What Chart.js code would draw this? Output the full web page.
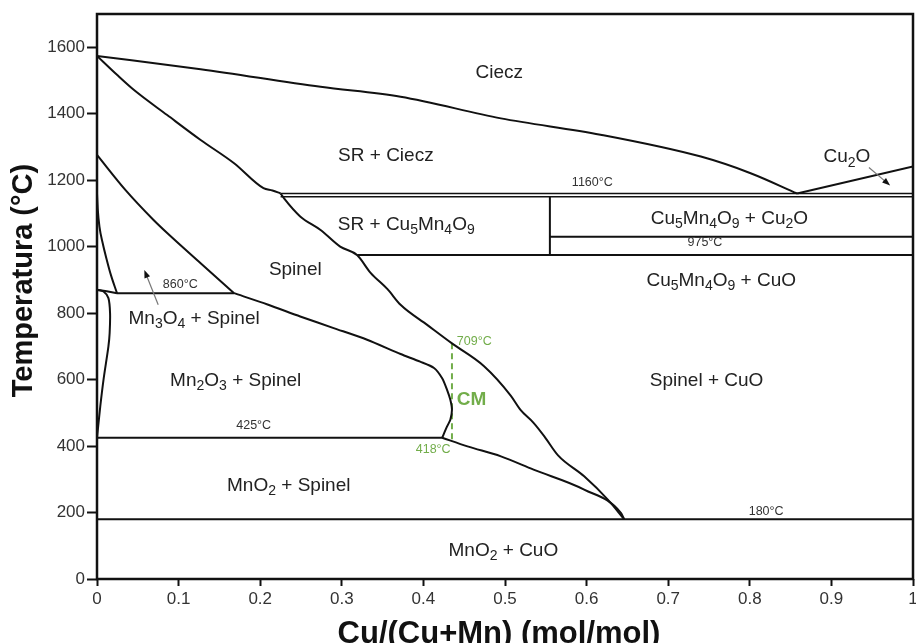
<!DOCTYPE html>
<html>
<head>
<meta charset="utf-8">
<title>Cu-Mn-O</title>
<script src="https://cdn.jsdelivr.net/npm/chart.js@4/dist/chart.umd.min.js"></script>
<style>
  html, body { margin: 0; padding: 0; background: #fff; }
  #wrap { width: 916px; height: 643px; }
</style>
</head>
<body>
<div id="wrap"><canvas id="diagram" width="916" height="643"></canvas></div>
<script>
// phase boundaries, pairs of [Cu/(Cu+Mn), T in °C]
const liquidusSR = [[0, 1574], [0.127, 1534], [0.274, 1481], [0.372, 1451], [0.495, 1386], [0.617, 1337], [0.74, 1271], [0.801, 1221], [0.858, 1160]];
const liquidusCu2O = [[0.858, 1160], [1, 1241]];
const srSolvus = [[0, 1574], [0.0245, 1517], [0.045, 1472], [0.086, 1396], [0.127, 1321], [0.168, 1251], [0.204, 1176], [0.215, 1169], [0.225, 1160]];
const spinelCuO = [[0.225, 1160], [0.229, 1146], [0.249, 1091], [0.274, 1050], [0.298, 1000], [0.319, 974], [0.335, 922], [0.356, 872], [0.372, 825], [0.405, 764], [0.435, 709], [0.474, 641], [0.507, 552], [0.519, 509], [0.535, 470], [0.548, 430], [0.565, 372], [0.597, 309], [0.626, 239], [0.646, 180]];
const spinelLow = [[0.423, 425], [0.454, 399], [0.495, 369], [0.535, 329], [0.597, 269], [0.642, 199], [0.646, 180]];
const spinelMn3O4 = [[0, 1276], [0.035, 1170], [0.069, 1081], [0.086, 1041], [0.127, 950], [0.168, 860]];
const spinelMn2O3 = [[0.168, 860], [0.209, 826], [0.249, 790], [0.290, 755], [0.331, 720], [0.372, 677], [0.396, 654], [0.413, 635], [0.423, 604], [0.429, 569], [0.433, 539], [0.435, 509], [0.433, 479], [0.429, 459], [0.423, 425]];
const mn3o4Edge = [[0, 1160], [0.001, 1110], [0.003, 1060], [0.007, 1010], [0.012, 960], [0.017, 915], [0.0245, 860]];
const mn3o4Foot = [[0, 870], [0.012, 866], [0.0245, 860]];
const mn2o3Lens = [[0, 870], [0.008, 865], [0.014, 845], [0.016, 800], [0.0155, 740], [0.014, 700], [0.008, 600], [0.004, 519], [0, 425]];

// invariant lines
const iso1160 = [[0.225, 1160], [1, 1160]];
const iso1150 = [[0.225, 1150], [1, 1150]];
const iso1030 = [[0.555, 1030], [1, 1030]];
const iso975 = [[0.319, 975], [1, 975]];
const cu5Mn4O9Split = [[0.555, 975], [0.555, 1150]];
const iso860 = [[0.0245, 860], [0.168, 860]];
const iso425 = [[0, 425], [0.423, 425]];
const iso180 = [[0, 180], [1, 180]];
const cmLine = [[0.435, 709], [0.435, 418]];

const xTicks = [0, 0.1, 0.2, 0.3, 0.4, 0.5, 0.6, 0.7, 0.8, 0.9, 1];
const yTicks = [0, 200, 400, 600, 800, 1000, 1200, 1400, 1600];

const FONT = '"Liberation Sans", Arial, Helvetica, sans-serif';
const GREEN = '#72ad4a';

// text in the fields; "_n" is a subscript
const fieldLabels = [
  { t: 'Ciecz', x: 0.493, y: 1524 },
  { t: 'SR + Ciecz', x: 0.354, y: 1274 },
  { t: 'Cu_2O', x: 0.919, y: 1269 },
  { t: 'SR + Cu_5Mn_4O_9', x: 0.379, y: 1066 },
  { t: 'Cu_5Mn_4O_9 + Cu_2O', x: 0.775, y: 1084 },
  { t: 'Spinel', x: 0.243, y: 929 },
  { t: 'Cu_5Mn_4O_9 + CuO', x: 0.765, y: 897 },
  { t: 'Mn_3O_4 + Spinel', x: 0.119, y: 783 },
  { t: 'Mn_2O_3 + Spinel', x: 0.170, y: 596 },
  { t: 'Spinel + CuO', x: 0.747, y: 597 },
  { t: 'MnO_2 + Spinel', x: 0.235, y: 281 },
  { t: 'MnO_2 + CuO', x: 0.498, y: 85 }
];
const tempLabels = [
  { t: '1160°C', x: 0.607, y: 1193 },
  { t: '975°C', x: 0.745, y: 1011 },
  { t: '860°C', x: 0.102, y: 886 },
  { t: '425°C', x: 0.192, y: 461 },
  { t: '180°C', x: 0.820, y: 203 }
];
const arrows = [
  { from: [0.075, 825], to: [0.058, 930] },
  { from: [0.946, 1238], to: [0.972, 1184] }
];

function toPoints(arr) {
  return arr.map(p => ({ x: p[0], y: p[1] }));
}

function line(arr, opts) {
  return Object.assign({
    data: toPoints(arr),
    showLine: true,
    borderColor: '#111',
    borderWidth: 2,
    pointRadius: 0,
    tension: 0,
    fill: false
  }, opts || {});
}

// smooth curve for boundaries that run left to right
function curve(arr, opts) {
  return line(arr, Object.assign({ cubicInterpolationMode: 'monotone' }, opts || {}));
}

function drawRich(ctx, text, cx, cy, size, color, bold, align) {
  const parts = text.split(/(_\d+)/).filter(Boolean)
    .map(p => p[0] === '_' ? { t: p.slice(1), sub: true } : { t: p, sub: false });
  const w8 = bold ? 'bold ' : '';
  const big = w8 + size + 'px ' + FONT;
  const small = w8 + Math.round(size * 0.72) + 'px ' + FONT;
  let total = 0;
  parts.forEach(p => {
    ctx.font = p.sub ? small : big;
    p.w = ctx.measureText(p.t).width;
    total += p.w;
  });
  let xx = align === 'left' ? cx : cx - total / 2;
  ctx.fillStyle = color;
  ctx.textAlign = 'left';
  ctx.textBaseline = 'middle';
  parts.forEach(p => {
    ctx.font = p.sub ? small : big;
    ctx.fillText(p.t, xx, p.sub ? cy + size * 0.3 : cy);
    xx += p.w;
  });
}

const annotate = {
  id: 'annotate',
  afterDatasetsDraw(chart) {
    const { ctx, chartArea: a, scales: { x, y } } = chart;
    ctx.save();

    // frame
    ctx.lineWidth = 2.5;
    ctx.strokeStyle = '#111';
    ctx.strokeRect(a.left, a.top, a.right - a.left, a.bottom - a.top);

    // small pointers
    arrows.forEach(ar => {
      const x0 = x.getPixelForValue(ar.from[0]), y0 = y.getPixelForValue(ar.from[1]);
      const x1 = x.getPixelForValue(ar.to[0]), y1 = y.getPixelForValue(ar.to[1]);
      const ang = Math.atan2(y1 - y0, x1 - x0);
      ctx.strokeStyle = '#777';
      ctx.lineWidth = 1.2;
      ctx.beginPath();
      ctx.moveTo(x0, y0);
      ctx.lineTo(x1 - 6 * Math.cos(ang), y1 - 6 * Math.sin(ang));
      ctx.stroke();
      ctx.fillStyle = '#111';
      ctx.beginPath();
      ctx.moveTo(x1, y1);
      ctx.lineTo(x1 - 8 * Math.cos(ang) + 3 * Math.sin(ang), y1 - 8 * Math.sin(ang) - 3 * Math.cos(ang));
      ctx.lineTo(x1 - 8 * Math.cos(ang) - 3 * Math.sin(ang), y1 - 8 * Math.sin(ang) + 3 * Math.cos(ang));
      ctx.closePath();
      ctx.fill();
    });

    fieldLabels.forEach(l => {
      drawRich(ctx, l.t, x.getPixelForValue(l.x), y.getPixelForValue(l.y), 19, '#222', false, 'center');
    });
    tempLabels.forEach(l => {
      drawRich(ctx, l.t, x.getPixelForValue(l.x), y.getPixelForValue(l.y), 12.5, '#333', false, 'center');
    });

    // CM composition marks
    drawRich(ctx, '709°C', x.getPixelForValue(0.441), y.getPixelForValue(715), 12.5, GREEN, false, 'left');
    drawRich(ctx, '418°C', x.getPixelForValue(0.412), y.getPixelForValue(389), 12.5, GREEN, false, 'center');
    drawRich(ctx, 'CM', x.getPixelForValue(0.441), y.getPixelForValue(539), 19, GREEN, true, 'left');

    ctx.restore();
  },
  afterDraw(chart) {
    const { ctx } = chart;
    ctx.save();
    ctx.fillStyle = '#111';
    ctx.textAlign = 'center';
    ctx.textBaseline = 'alphabetic';
    ctx.font = 'bold 31px ' + FONT;
    ctx.fillText('Cu/(Cu+Mn) (mol/mol)', 499, 643);
    ctx.translate(32, 280.5);
    ctx.rotate(-Math.PI / 2);
    ctx.font = 'bold 29px ' + FONT;
    ctx.fillText('Temperatura (°C)', 0, 0);
    ctx.restore();
  }
};

Chart.defaults.font.family = FONT;

new Chart(document.getElementById('diagram'), {
  type: 'scatter',
  data: {
    datasets: [
      curve(liquidusSR),
      line(liquidusCu2O),
      curve(srSolvus),
      curve(spinelCuO),
      curve(spinelLow),
      curve(spinelMn3O4),
      line(spinelMn2O3, { tension: 0.25 }),
      curve(mn3o4Edge),
      line(mn3o4Foot),
      line(mn2o3Lens, { tension: 0.3 }),
      line(iso1160, { borderWidth: 1.6 }),
      line(iso1150, { borderWidth: 1.6 }),
      line(iso1030),
      line(iso975),
      line(cu5Mn4O9Split),
      line(iso860),
      line(iso425),
      line(iso180),
      line(cmLine, { borderColor: GREEN, borderDash: [6, 4] })
    ]
  },
  options: {
    responsive: false,
    animation: false,
    layout: { padding: { top: 14, right: 3, left: 0, bottom: 0 } },
    plugins: {
      legend: { display: false },
      tooltip: { enabled: false }
    },
    scales: {
      x: {
        type: 'linear',
        min: 0,
        max: 1,
        afterBuildTicks: s => { s.ticks = xTicks.map(v => ({ value: v })); },
        afterFit: s => { s.height = 64; s.paddingLeft = 0; s.paddingRight = 0; },
        border: { display: false },
        grid: { drawOnChartArea: false, tickLength: 7, tickWidth: 2, tickColor: '#111' },
        ticks: { font: { size: 17 }, color: '#333', padding: 3, maxRotation: 0, autoSkip: false, callback: v => String(v) }
      },
      y: {
        type: 'linear',
        min: 0,
        max: 1700,
        afterBuildTicks: s => { s.ticks = yTicks.map(v => ({ value: v })); },
        afterFit: s => { s.width = 97; s.paddingTop = 0; s.paddingBottom = 0; },
        border: { display: false },
        grid: { drawOnChartArea: false, tickLength: 10, tickWidth: 2, tickColor: '#111' },
        ticks: { font: { size: 17 }, color: '#333', padding: 2, autoSkip: false, callback: v => String(v) }
      }
    }
  },
  plugins: [annotate]
});
</script>
</body>
</html>
